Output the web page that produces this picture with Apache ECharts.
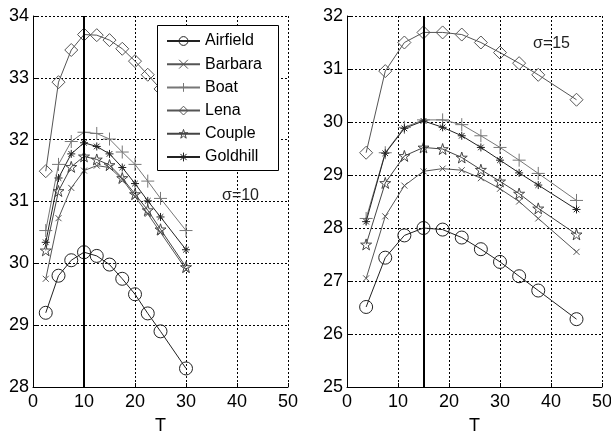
<!DOCTYPE html>
<html><head><meta charset="utf-8">
<script src="https://cdn.jsdelivr.net/npm/echarts@6/dist/echarts.min.js"></script>
<style>html,body{margin:0;padding:0;background:#fff}#c{width:611px;height:435px}</style>
</head><body><div id="c"></div>
<script>
// ---- data ----
var seriesNames = ['Airfield','Barbara','Boat','Lena','Couple','Goldhill'];
var xTicks = [0,10,20,30,40,50];
var T10 = [2.5,5,7.5,10,12.5,15,17.5,20,22.5,25,30];
var T15 = [3.75,7.5,11.25,15,18.75,22.5,26.25,30,33.75,37.5,45];
var airfield10 = [29.2,29.8,30.05,30.18,30.12,29.98,29.75,29.5,29.19,28.9,28.3];
var barbara10  = [29.75,30.73,31.22,31.5,31.58,31.55,31.36,31.08,30.8,30.5,29.9];
var boat10     = [30.53,31.6,31.97,32.12,32.1,32.01,31.8,31.6,31.33,31.05,30.53];
var lena10     = [31.49,32.93,33.45,33.7,33.69,33.61,33.47,33.27,33.05,32.82,32.35];
var couple10   = [30.21,31.17,31.56,31.73,31.68,31.59,31.38,31.12,30.86,30.55,29.94];
var goldhill10 = [30.34,31.38,31.77,31.95,31.89,31.77,31.55,31.29,31.01,30.75,30.22];
var airfield15 = [26.51,27.44,27.86,28.0,27.97,27.82,27.6,27.36,27.09,26.82,26.28];
var barbara15  = [27.05,28.22,28.8,29.07,29.12,29.09,28.94,28.74,28.5,28.18,27.55];
var boat15     = [28.18,29.42,29.9,30.04,30.04,29.95,29.74,29.52,29.28,29.03,28.52];
var lena15     = [29.42,30.96,31.5,31.69,31.69,31.65,31.5,31.31,31.11,30.89,30.42];
var couple15   = [27.69,28.85,29.36,29.52,29.49,29.33,29.1,28.88,28.65,28.37,27.88];
var goldhill15 = [28.12,29.41,29.88,30.02,29.9,29.74,29.52,29.28,29.04,28.81,28.35];
var vline10 = 10, vline15 = 15;
var yRange10 = [28,34], yRange15 = [25,32];
var sigmaLabels = ['σ=10','σ=15'];

// ---- styles ----
var FONT = '"Liberation Sans", Arial, sans-serif';
var styles = {
  Airfield:{symbol:'circle', size:13, color:'#222'},
  Barbara:{symbol:'path://M0,0L10,10M10,0L0,10', size:6, color:'#555'},
  Boat:{symbol:'path://M5,0L5,10M0,5L10,5', size:13, color:'#777'},
  Lena:{symbol:'diamond', size:13, color:'#555'},
  Couple:{symbol:'path://M5,0L6.123,3.455L9.755,3.455L6.816,5.59L7.939,9.045L5,6.91L2.061,9.045L3.184,5.59L0.245,3.455L3.877,3.455Z', size:11, color:'#444'},
  Goldhill:{symbol:'path://M5,0L5,10M0,5L10,5M1.5,1.5L8.5,8.5M8.5,1.5L1.5,8.5', size:8, color:'#222'}
};
var sets10 = [airfield10,barbara10,boat10,lena10,couple10,goldhill10];
var sets15 = [airfield15,barbara15,boat15,lena15,couple15,goldhill15];

function mk(name, xs, ys, gi, mark) {
  var st = styles[name];
  var s = {
    name: name, type:'line', xAxisIndex: gi, yAxisIndex: gi,
    data: xs.map(function(x,i){return [x, ys[i]];}),
    symbol: st.symbol, symbolSize: st.size, showAllSymbol: true,
    lineStyle:{color: st.color, width:1},
    itemStyle:{color:'rgba(0,0,0,0)', borderColor: st.color, borderWidth:1},
    emphasis:{disabled:true}, animation:false, z: 2
  };
  if (mark != null) {
    s.markLine = {silent:true, symbol:['none','none'], label:{show:false},
      lineStyle:{color:'#000', width:2, type:'solid'}, data:[{xAxis: mark}], animation:false};
  }
  return s;
}
var series = [];
seriesNames.forEach(function(n,i){ series.push(mk(n, T10, sets10[i], 0, i===0?vline10:null)); });
seriesNames.forEach(function(n,i){ series.push(mk(n, T15, sets15[i], 1, i===0?vline15:null)); });

function xAx(gi){ return {type:'value', gridIndex:gi, min:0, max:50, interval:10,
  name:'T', nameLocation:'middle', nameGap:30, nameTextStyle:{fontSize:18, color:'#000', fontFamily:FONT},
  axisLine:{show:true, lineStyle:{color:'#000', width:1}},
  axisTick:{inside:true, length:4, lineStyle:{color:'#000'}},
  axisLabel:{fontSize:18, color:'#000', fontFamily:FONT, margin:6},
  splitLine:{show:true, lineStyle:{color:'#000', type:[2,2], width:1}} }; }
function yAx(gi, r){ return {type:'value', gridIndex:gi, min:r[0], max:r[1], interval:1,
  axisLine:{show:true, lineStyle:{color:'#000', width:1}},
  axisTick:{inside:true, length:4, lineStyle:{color:'#000'}},
  axisLabel:{fontSize:18, color:'#000', fontFamily:FONT, margin:4},
  splitLine:{show:true, lineStyle:{color:'#000', type:[2,2], width:1}} }; }

var chart = echarts.init(document.getElementById('c'), null, {renderer:'canvas'});
chart.setOption({
  backgroundColor:'#fff',
  animation:false,
  grid:[{left:33, top:16, width:255, height:371, outerBoundsMode:'none', containLabel:false, show:true, borderColor:'#000', borderWidth:0},
        {left:347, top:16, width:255, height:371, outerBoundsMode:'none', containLabel:false, show:true, borderColor:'#000', borderWidth:0}],
  xAxis:[xAx(0), xAx(1)],
  yAxis:[yAx(0,yRange10), yAx(1,yRange15)],
  legend:{left:157, top:32, orient:'vertical', data: seriesNames, z:8,
    backgroundColor:'rgba(0,0,0,0)', borderWidth:0,
    padding:[1,12,4,9], itemWidth:33, itemHeight:11, itemGap:7.2,
    selectedMode:false,
    itemStyle:{color:'rgba(0,0,0,0)', borderWidth:1},
    textStyle:{fontSize:16, color:'#000', fontFamily:FONT, lineHeight:16}},
  graphic:[
    {type:'rect', z:5, shape:{x:157.5, y:25.5, width:121, height:145}, style:{fill:'#fff', stroke:'#000', lineWidth:1}},
    {type:'text', left:222, top:188, z:10, style:{text:sigmaLabels[0], fontSize:16, fill:'#222', font:'16px '+FONT}},
    {type:'text', left:533, top:36, z:10, style:{text:sigmaLabels[1], fontSize:16, fill:'#222', font:'16px '+FONT}}
  ],
  series: series
});
</script></body></html>
